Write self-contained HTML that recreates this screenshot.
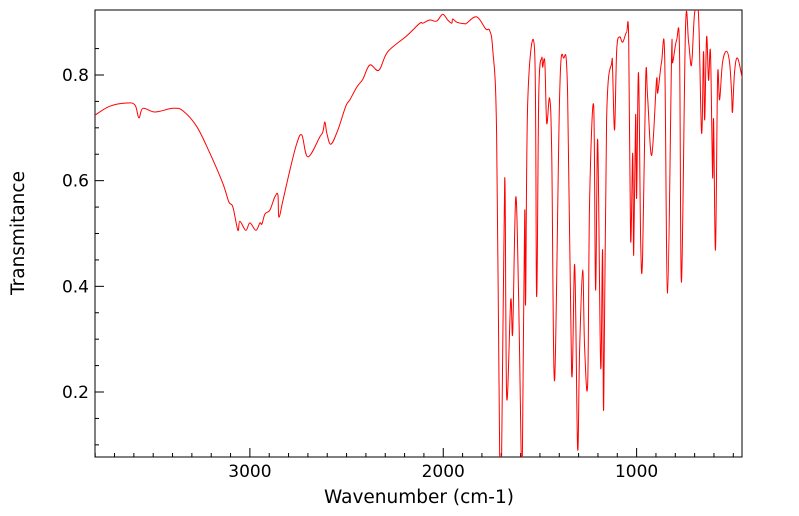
<!DOCTYPE html>
<html><head><meta charset="utf-8"><style>
body{margin:0;background:#fff;}
svg{display:block;font-family:"DejaVu Sans","Liberation Sans",sans-serif;}
</style></head><body>
<svg id="chart" width="799" height="516">
<defs><clipPath id="clip"><rect x="95" y="10" width="647" height="447"/></clipPath></defs>
<rect x="95" y="10" width="647" height="447" fill="none" stroke="#000" stroke-width="1"/>
<g id="ticks"></g>
<path id="line" fill="none" stroke="#ff0000" stroke-width="1" clip-path="url(#clip)"/>
<text x="19" y="233" transform="rotate(-90 19 233)" text-anchor="middle" font-size="18.5" dominant-baseline="middle">Transmitance</text>
<text x="419" y="503" text-anchor="middle" font-size="18.5">Wavenumber (cm-1)</text>
</svg>
<script>
const wavenumbers=[3801,3724,3636,3594,3574,3553,3491,3398,3346,3274,3207,3140,3109,3088,3062,3052,3021,3000,2969,2948,2938,2922,2897,2871,2855,2850,2829,2793,2757,2731,2700,2638,2623,2612,2602,2581,2545,2504,2483,2447,2416,2380,2333,2287,2189,2121,2106,2070,2034,2003,1977,1956,1951,1930,1889,1879,1827,1780,1760,1744,1724,1708,1698,1682,1672,1651,1641,1625,1610,1598,1594,1590,1579,1574,1563,1527,1517,1506,1491,1486,1475,1465,1450,1439,1424,1398,1377,1357,1336,1320,1305,1295,1279,1269,1253,1243,1222,1212,1201,1186,1176,1170,1155,1129,1124,1114,1103,1088,1072,1052,1041,1031,1020,1015,1005,1000,990,979,969,953,943,922,897,891,871,855,840,819,814,793,778,768,747,731,716,700,680,664,654,648,638,628,618,607,602,592,581,571,556,535,519,509,504,494,478,452];
const transmittance=[0.724,0.741,0.747,0.743,0.719,0.737,0.730,0.737,0.732,0.702,0.652,0.595,0.560,0.550,0.506,0.523,0.506,0.520,0.506,0.520,0.518,0.537,0.544,0.569,0.573,0.531,0.563,0.620,0.671,0.686,0.645,0.683,0.692,0.711,0.690,0.669,0.696,0.741,0.753,0.777,0.792,0.819,0.809,0.844,0.874,0.898,0.898,0.904,0.902,0.915,0.904,0.898,0.906,0.900,0.897,0.898,0.910,0.887,0.884,0.847,0.690,0.077,0.077,0.605,0.190,0.374,0.313,0.569,0.374,0.100,0.070,0.100,0.539,0.368,0.753,0.842,0.381,0.766,0.832,0.815,0.825,0.709,0.756,0.654,0.222,0.766,0.832,0.766,0.236,0.440,0.093,0.279,0.431,0.285,0.217,0.563,0.741,0.393,0.677,0.247,0.469,0.169,0.715,0.823,0.809,0.696,0.847,0.872,0.862,0.881,0.866,0.488,0.652,0.459,0.724,0.567,0.804,0.482,0.456,0.794,0.758,0.648,0.790,0.766,0.825,0.834,0.387,0.838,0.823,0.866,0.847,0.408,0.889,0.862,0.819,0.917,0.914,0.690,0.844,0.715,0.872,0.790,0.842,0.607,0.715,0.469,0.796,0.753,0.823,0.845,0.823,0.766,0.730,0.804,0.832,0.790];
const yTickLabels=[0.2,0.4,0.6,0.8];
const xTickLabels=[3000,2000,1000];
const X0=95,X1=742,Y0=457,Y1=10;
const WMAX=3801,WMIN=455,TMIN=0.077,TMAX=0.923;
function xs(w){return X0+(WMAX-w)/(WMAX-WMIN)*(X1-X0);}
function ys(t){return Y0-(t-TMIN)/(TMAX-TMIN)*(Y0-Y1);}
const ns="http://www.w3.org/2000/svg";
const P=wavenumbers.map((w,i)=>[xs(w),ys(transmittance[i])]);
let d="M"+P[0][0].toFixed(1)+","+P[0][1].toFixed(1);
const k=0.35;
for(let i=0;i<P.length-1;i++){
  const p0=P[Math.max(0,i-1)],p1=P[i],p2=P[i+1],p3=P[Math.min(P.length-1,i+2)];
  const c1x=p1[0]+(p2[0]-p0[0])*k/2,c1y=p1[1]+(p2[1]-p0[1])*k/2;
  const c2x=p2[0]-(p3[0]-p1[0])*k/2,c2y=p2[1]-(p3[1]-p1[1])*k/2;
  d+="C"+c1x.toFixed(1)+","+c1y.toFixed(1)+" "+c2x.toFixed(1)+","+c2y.toFixed(1)+" "+p2[0].toFixed(1)+","+p2[1].toFixed(1);
}
document.getElementById("line").setAttribute("d",d);
const g=document.getElementById("ticks");
function ln(x1,y1,x2,y2,name){const l=document.createElementNS(ns,"line");l.setAttribute("x1",x1);l.setAttribute("y1",y1);l.setAttribute("x2",x2);l.setAttribute("y2",y2);l.setAttribute("stroke","#000");


g.appendChild(l);}
function tx(x,y,s,anchor,name){const t=document.createElementNS(ns,"text");t.setAttribute("x",x);t.setAttribute("y",y);t.setAttribute("text-anchor",anchor);t.setAttribute("font-size","17");t.textContent=s;


g.appendChild(t);}
for(let j=1;j<=17;j++){const v=0.05*j;const y=ys(v);if(y<Y1||y>Y0)continue;const major=Math.abs(v*5-Math.round(v*5))<1e-6;ln(X0,y,X0+(major?9:4),y,major?"y-major-tick":"y-minor-tick");}
yTickLabels.forEach(v=>tx(X0-6,ys(v)+6,v.toFixed(1),"end","y-tick-label"));
for(let w=500;w<=3800;w+=100){const x=xs(w);const major=w%1000===0;ln(x,Y0,x,Y0-(major?9:4),major?"x-major-tick":"x-minor-tick");}
xTickLabels.forEach(w=>tx(xs(w),Y0+20,String(w),"middle","x-tick-label"));
</script>
</body></html>
